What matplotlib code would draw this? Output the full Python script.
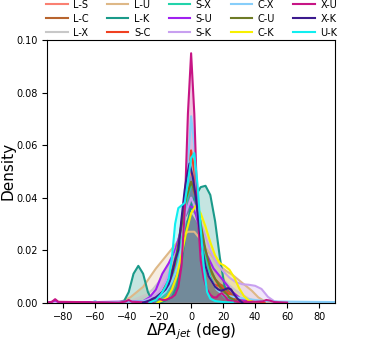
import matplotlib
matplotlib.use("Agg")
import matplotlib.pyplot as plt
from matplotlib.lines import Line2D

# Delta PA_jet (deg) sampled along each curve, and the density read at each angle
LS_deg = [-24, -21, -18, -15, -12, -9, -6, -3, 0, 3, 6, 9, 12, 15, 18, 21, 24, 27, 30]
LS_den = [0, 0.001, 0.002, 0.004, 0.009, 0.017, 0.03, 0.045, 0.05, 0.043, 0.028, 0.016, 0.01, 0.007, 0.006, 0.005, 0.003, 0.001, 0]

LC_deg = [-27, -24, -21, -18, -15, -12, -9, -6, -3, 0, 3, 6, 9, 12, 15, 18, 21, 24, 27, 30, 34]
LC_den = [0, 0.001, 0.002, 0.004, 0.008, 0.013, 0.02, 0.03, 0.04, 0.046, 0.04, 0.028, 0.018, 0.012, 0.009, 0.007, 0.006, 0.004, 0.002, 0.001, 0]

LX_deg = [-40, -36, -32, -28, -24, -20, -16, -12, -8, -4, 0, 4, 8, 12, 16, 20, 24, 28, 32, 36, 40, 44]
LX_den = [0, 0.001, 0.002, 0.003, 0.005, 0.008, 0.012, 0.017, 0.024, 0.031, 0.035, 0.031, 0.024, 0.017, 0.012, 0.009, 0.0065, 0.0045, 0.003, 0.0015, 0.0005, 0]

LU_deg = [-46, -42, -38, -34, -30, -26, -22, -18, -14, -10, -6, -2, 2, 6, 10, 14, 18, 22, 26, 30, 34, 38, 42, 46, 50]
LU_den = [0, 0.0008, 0.002, 0.004, 0.006, 0.0095, 0.013, 0.016, 0.019, 0.022, 0.025, 0.027, 0.027, 0.024, 0.02, 0.017, 0.014, 0.012, 0.0105, 0.0085, 0.0065, 0.0045, 0.002, 0.0005, 0]

LK_deg = [-46, -42, -39, -36, -33, -30, -27, -24, -18, -12, -9, -6, -3, 0, 3, 6, 9, 12, 15, 18, 21, 24, 28]
LK_den = [0, 0.0005, 0.004, 0.011, 0.014, 0.011, 0.004, 0.0005, 0.0003, 0.002, 0.006, 0.015, 0.028, 0.037, 0.041, 0.044, 0.0445, 0.041, 0.031, 0.017, 0.006, 0.0015, 0]

SC_deg = [-30, -24, -20, -16, -12, -10, -8, -6, -4, -2, 0, 2, 4, 6, 8, 10, 12, 14, 16, 18, 20, 22, 24, 28, 34, 40, 46]
SC_den = [0, 0.001, 0.003, 0.005, 0.009, 0.013, 0.019, 0.028, 0.04, 0.053, 0.058, 0.05, 0.037, 0.025, 0.017, 0.012, 0.009, 0.007, 0.0065, 0.0065, 0.0055, 0.004, 0.003, 0.0015, 0.001, 0.0005, 0]

SX_deg = [-24, -21, -18, -15, -12, -9, -6, -3, 0, 3, 6, 9, 12, 15, 18, 21, 24, 28]
SX_den = [0, 0.001, 0.002, 0.004, 0.008, 0.014, 0.025, 0.038, 0.045, 0.042, 0.03, 0.018, 0.01, 0.006, 0.004, 0.002, 0.001, 0]

SU_deg = [-90, -87, -85, -83, -60, -30, -26, -22, -18, -14, -10, -6, -2, 2, 6, 10, 14, 18, 22, 26, 30, 34, 38]
SU_den = [0, 0.0003, 0.0008, 0.0002, 0.0002, 0.0005, 0.002, 0.005, 0.011, 0.015, 0.02, 0.028, 0.037, 0.036, 0.026, 0.018, 0.013, 0.01, 0.007, 0.004, 0.002, 0.0005, 0]

SK_deg = [-32, -28, -24, -20, -16, -12, -8, -4, 0, 4, 8, 12, 16, 20, 24, 28, 32, 36, 40, 44, 48, 52, 56]
SK_den = [0, 0.001, 0.002, 0.004, 0.008, 0.014, 0.022, 0.033, 0.04, 0.034, 0.027, 0.02, 0.015, 0.012, 0.0095, 0.0078, 0.007, 0.0068, 0.0064, 0.0052, 0.0022, 0.0005, 0]

CX_deg = [-62, -60, -58, -30, -24, -20, -18, -16, -14, -12, -10, -8, -6, -4, -2, 0, 2, 4, 6, 8, 10, 12, 14, 16, 18, 20, 24, 28, 34, 40, 46, 55, 70, 90]
CX_den = [0, 0.0006, 0, 0.0005, 0.001, 0.002, 0.003, 0.004, 0.006, 0.008, 0.011, 0.015, 0.021, 0.031, 0.052, 0.071, 0.06, 0.034, 0.022, 0.016, 0.012, 0.009, 0.007, 0.005, 0.004, 0.003, 0.0025, 0.002, 0.0015, 0.001, 0.0006, 0.0004, 0.0003, 0.0002]

CU_deg = [-27, -24, -21, -18, -15, -12, -9, -6, -3, 0, 3, 6, 9, 12, 15, 18, 21, 24, 27, 30]
CU_den = [0, 0.001, 0.002, 0.004, 0.007, 0.012, 0.019, 0.029, 0.04, 0.046, 0.041, 0.03, 0.02, 0.013, 0.009, 0.006, 0.004, 0.002, 0.001, 0]

CK_deg = [-21, -18, -15, -12, -9, -6, -3, 0, 3, 6, 9, 12, 15, 18, 21, 24, 27, 30, 33, 36, 40]
CK_den = [0, 0.0008, 0.002, 0.005, 0.01, 0.018, 0.027, 0.034, 0.037, 0.034, 0.029, 0.023, 0.018, 0.015, 0.014, 0.0125, 0.0095, 0.0055, 0.0025, 0.0008, 0]

XU_deg = [-90, -87, -85, -83, -45, -41, -39, -37, -24, -22, -20, -18, -16, -14, -12, -10, -8, -6, -4, -2, 0, 2, 4, 6, 8, 10, 12, 14, 16, 17, 19, 21, 23, 26, 30, 40, 45, 47, 49, 52, 60]
XU_den = [0, 0.0003, 0.0013, 0.0003, 0, 0.0004, 0.001, 0.0003, 0, 0.001, 0.0015, 0.001, 0.001, 0.0015, 0.002, 0.003, 0.006, 0.014, 0.035, 0.072, 0.095, 0.072, 0.035, 0.016, 0.009, 0.005, 0.003, 0.002, 0.002, 0.0028, 0.0036, 0.0025, 0.001, 0.0005, 0.0003, 0.0003, 0.0005, 0.001, 0.0008, 0.0002, 0]

XK_deg = [-30, -26, -24, -22, -20, -18, -16, -14, -12, -10, -8, -6, -4, -3, -1, 1, 3, 5, 7, 9, 11, 13, 15, 17, 19, 21, 23, 25, 27, 29, 32]
XK_den = [0, 0.0008, 0.0015, 0.002, 0.003, 0.004, 0.005, 0.007, 0.011, 0.016, 0.02, 0.032, 0.043, 0.047, 0.053, 0.048, 0.04, 0.029, 0.02, 0.014, 0.01, 0.008, 0.006, 0.005, 0.0045, 0.005, 0.0055, 0.005, 0.003, 0.0015, 0]

UK_deg = [-26, -22, -19, -16, -14, -12, -10, -8, -6, -4, -2, 0, 2, 4, 6, 8, 10, 12, 15, 20, 26]
UK_den = [0, 0.001, 0.003, 0.006, 0.009, 0.017, 0.03, 0.036, 0.037, 0.038, 0.046, 0.055, 0.057, 0.045, 0.028, 0.013, 0.004, 0.0015, 0.0006, 0.0002, 0]

PAIRS = ["L-S", "L-C", "L-X", "L-U", "L-K", "S-C", "S-X", "S-U",
         "S-K", "C-X", "C-U", "C-K", "X-U", "X-K", "U-K"]
COLORS = ["#fa8072", "#b8642e", "#c8c8c8", "#deb887", "#1a9a8a", "#f04020", "#22d3aa", "#a020f0",
          "#c8a0f0", "#87cefa", "#6e7c25", "#f8f000", "#c71585", "#3c1a8e", "#10eef0"]
CURVES = [(LS_deg, LS_den), (LC_deg, LC_den), (LX_deg, LX_den), (LU_deg, LU_den), (LK_deg, LK_den),
          (SC_deg, SC_den), (SX_deg, SX_den), (SU_deg, SU_den), (SK_deg, SK_den), (CX_deg, CX_den),
          (CU_deg, CU_den), (CK_deg, CK_den), (XU_deg, XU_den), (XK_deg, XK_den), (UK_deg, UK_den)]

fig = plt.figure(figsize=(3.74, 3.4), dpi=100)
ax = fig.add_axes([0.126, 0.110, 0.77, 0.772])

handles = []
for name, color, (deg, den) in zip(PAIRS, COLORS, CURVES):
    ax.fill_between(deg, 0, den, facecolor=color, alpha=0.25, edgecolor="none")
    ax.plot(deg, den, color=color, lw=1.5, solid_joinstyle="round")
    handles.append(Line2D([], [], color=color, lw=1.5, label=name))

ax.set_xlim(-90, 90)
ax.set_ylim(0, 0.1)
ax.set_xticks([-80, -60, -40, -20, 0, 20, 40, 60, 80])
ax.set_yticks([0, 0.02, 0.04, 0.06, 0.08, 0.10])
ax.tick_params(labelsize=7)
ax.set_xlabel(r"$\Delta PA_{jet}$ (deg)", fontsize=11, labelpad=-1)
ax.set_ylabel("Density", fontsize=11, labelpad=0.5)

ax.legend(handles=handles, ncol=5, loc="lower left", bbox_to_anchor=(-0.01, 1.002),
          frameon=False, fontsize=7, handlelength=2.2, handletextpad=0.6,
          columnspacing=1.85, labelspacing=0.4, borderaxespad=0, borderpad=0.2)

fig.savefig("out.png", dpi=100)
